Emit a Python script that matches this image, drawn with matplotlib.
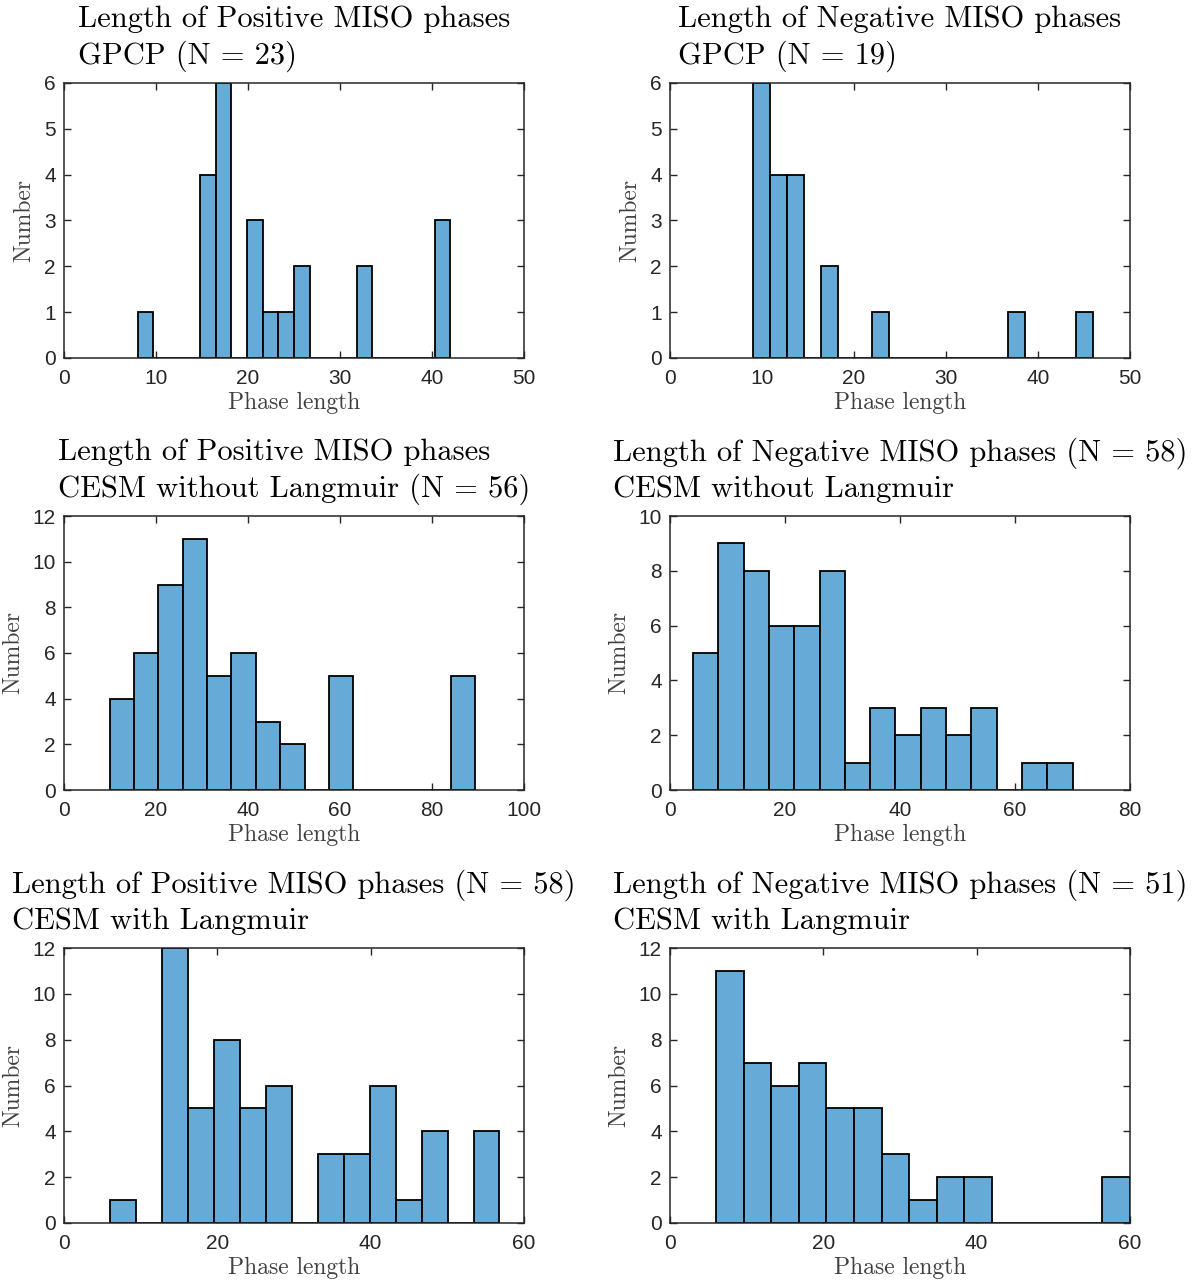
import numpy as np
import matplotlib
matplotlib.use("Agg")
import matplotlib.pyplot as plt

# ---------------- data (bin range + counts per bin) ----------------
gpcp_pos_range = (8.0, 42.0)
gpcp_pos_counts = [1, 0, 0, 0, 4, 6, 0, 3, 1, 1, 2, 0, 0, 0, 2, 0, 0, 0, 0, 3]

gpcp_neg_range = (9.0, 46.0)
gpcp_neg_counts = [6, 4, 4, 0, 2, 0, 0, 1, 0, 0, 0, 0, 0, 0, 0, 1, 0, 0, 0, 1]

cesm_nolang_pos_range = (9.9, 89.4)
cesm_nolang_pos_counts = [4, 6, 9, 11, 5, 6, 3, 2, 0, 5, 0, 0, 0, 0, 5]

cesm_nolang_neg_range = (4.0, 70.0)
cesm_nolang_neg_counts = [5, 9, 8, 6, 6, 8, 1, 3, 2, 3, 2, 3, 0, 1, 1]

cesm_lang_pos_range = (6.0, 56.8)
cesm_lang_pos_counts = [1, 0, 12, 5, 8, 5, 6, 0, 3, 3, 6, 1, 4, 0, 4]

cesm_lang_neg_range = (6.0, 60.0)
cesm_lang_neg_counts = [11, 7, 6, 7, 5, 5, 3, 1, 2, 2, 0, 0, 0, 0, 2]

titles = [
    "Length of Positive MISO phases\nGPCP (N = 23)",
    "Length of Negative MISO phases\nGPCP (N = 19)",
    "Length of Positive MISO phases\nCESM without Langmuir (N = 56)",
    "Length of Negative MISO phases (N = 58)\nCESM without Langmuir",
    "Length of Positive MISO phases (N = 58)\nCESM with Langmuir",
    "Length of Negative MISO phases (N = 51)\nCESM with Langmuir",
]
x_label = "Phase length"
y_label = "Number"

xlims = [(0, 50), (0, 50), (0, 100), (0, 80), (0, 60), (0, 60)]
xticks = [[0, 10, 20, 30, 40, 50], [0, 10, 20, 30, 40, 50],
          [0, 20, 40, 60, 80, 100], [0, 20, 40, 60, 80],
          [0, 20, 40, 60], [0, 20, 40, 60]]
ylims = [(0, 6), (0, 6), (0, 12), (0, 10), (0, 12), (0, 12)]
yticks = [list(range(0, 7)), list(range(0, 7)), list(range(0, 13, 2)),
          list(range(0, 11, 2)), list(range(0, 13, 2)), list(range(0, 13, 2))]

ranges = [gpcp_pos_range, gpcp_neg_range, cesm_nolang_pos_range,
          cesm_nolang_neg_range, cesm_lang_pos_range, cesm_lang_neg_range]
counts = [gpcp_pos_counts, gpcp_neg_counts, cesm_nolang_pos_counts,
          cesm_nolang_neg_counts, cesm_lang_pos_counts, cesm_lang_neg_counts]

# ---------------- figure ----------------
W, H = 1196, 1283
fig = plt.figure(figsize=(W / 100, H / 100), dpi=100)

col_left = [64, 670]
ax_w = 460
rows = [(83, 358), (516, 790), (948, 1223)]

bar_color = (0.40, 0.668, 0.845)
axis_gray = (0.15, 0.15, 0.15)
label_gray = (0.25, 0.25, 0.25)
serif = "cmr10"
sans = "Liberation Sans"

for i in range(6):
    r, c = divmod(i, 2)
    top, bot = rows[r]
    ax = fig.add_axes([col_left[c] / W, 1 - bot / H, ax_w / W, (bot - top) / H])
    lo, hi = ranges[i]
    cnt = np.array(counts[i], dtype=float)
    edges = np.linspace(lo, hi, len(cnt) + 1)
    ax.bar(edges[:-1], cnt, width=np.diff(edges), align="edge",
           color=bar_color, edgecolor="black", linewidth=1.3, zorder=2)
    ax.set_xlim(*xlims[i])
    ax.set_ylim(*ylims[i])
    ax.set_xticks(xticks[i])
    ax.set_yticks(yticks[i])
    ax.tick_params(direction="in", top=True, right=True, length=5,
                   width=1.0, color=axis_gray, labelcolor=axis_gray,
                   labelsize=15)
    ax.tick_params(axis="x", pad=8)
    ax.tick_params(axis="y", pad=6)
    for lab in ax.get_xticklabels() + ax.get_yticklabels():
        lab.set_fontfamily(sans)
    for sp in ax.spines.values():
        sp.set_color(axis_gray)
        sp.set_linewidth(1.1)
        sp.set_zorder(3)
    ax.set_xlabel(x_label, fontfamily=serif, fontsize=17, color=label_gray,
                  labelpad=3)
    ax.set_ylabel(y_label, fontfamily=serif, fontsize=17, color=label_gray,
                  labelpad=6)
    ax.set_title(titles[i], fontfamily=serif, fontsize=22, color="black",
                 multialignment="left", pad=14, linespacing=1.3)

fig.savefig("out.png", dpi=100)
